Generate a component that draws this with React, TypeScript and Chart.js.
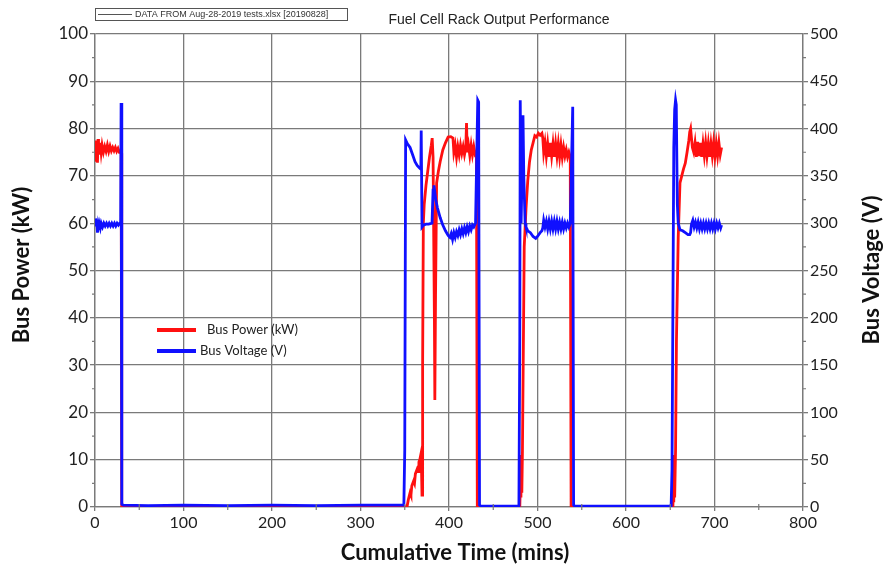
import React, { useEffect, useRef } from 'react';
import { Chart, registerables } from 'chart.js';

Chart.register(...registerables);

// Bus Power (kW): one time/value pair of arrays per running period (mins)
const powerRun1Time: number[] = [0, 0.5, 1, 1.6, 2.2, 2.8, 3.4, 4, 4.6, 5.3, 6, 7, 8, 9.5, 11, 12.5, 14, 15.5, 17, 18.5, 20, 21.5, 23, 24.5, 26, 27.5, 29, 29.6, 30.2];
const powerRun1Kw: number[] = [75, 73, 77.5, 73.5, 76, 72.8, 77.8, 74.5, 76.8, 74.8, 77, 75, 76.5, 75, 76.2, 75.2, 76.5, 75.2, 76.3, 75.3, 76, 75.3, 76, 75.2, 75.8, 75, 75, 74.8, 0];

const powerRun2Time: number[] = [
  352.5, 354, 356, 357, 358, 360, 361, 362, 364, 365, 366, 367, 368.6, 369.5, 370.2, 371, 372, 374, 376, 378,
  380, 381, 382, 383.5, 384, 384.8, 386, 388, 390, 393, 396, 399, 402, 404.5, 405.5, 407, 408.5, 410, 411.5, 413,
  414.5, 416, 417.5, 419, 419.8, 420.6, 422, 423.5, 425, 426.5, 428, 429.5, 431, 432,
];
const powerRun2Kw: number[] = [
  0, 1.5, 3, 2.5, 4.5, 5.5, 5, 7, 8, 7.5, 9.5, 10, 11.5, 2.5, 30, 60, 64, 68, 71, 74,
  76.5, 78, 74, 40, 22.6, 45, 68.5, 71, 73, 75.5, 77, 78.2, 78.3, 78, 75, 76.5, 74, 76.2, 74.5, 76.5,
  74.8, 76.2, 74.5, 76, 81.2, 75, 76.5, 74.3, 76.5, 74.5, 76.2, 74.6, 75, 0,
];

const powerRun3Time: number[] = [
  480, 480.8, 481.3, 481.8, 482.3, 483, 485, 487, 489, 491, 493, 495, 497, 499, 501, 503, 505, 506, 507, 508.5,
  510, 511.5, 513, 514.5, 516, 517.5, 519, 520.5, 522, 523.5, 525, 526.5, 528, 529.5, 531, 532.5, 534, 535.5, 537, 538,
];
const powerRun3Kw: number[] = [
  0, 6, 2, 11, 3, 12, 55, 63, 69, 73, 75.5, 77, 78.5, 78.2, 79, 78.6, 79, 78, 75, 77,
  74.2, 76.8, 74, 77, 74.2, 76.8, 74, 76.8, 74.2, 76.8, 74, 76.5, 74, 76, 74.2, 75.5, 74, 75, 74, 0,
];

const powerRun4Time: number[] = [
  653, 653.5, 654, 654.5, 655, 656, 657, 659, 661, 663, 665, 667, 669, 671, 672, 673, 674, 675, 676.5, 678,
  679.5, 681, 682.5, 684, 685.5, 687, 688.5, 690, 691.5, 693, 694.5, 696, 697.5, 699, 700.5, 702, 703.5, 705, 706.5, 708,
];
const powerRun4Kw: number[] = [
  0, 5, 1, 11, 2, 12, 35, 57, 68.5, 70, 71.5, 72.7, 75, 77.5, 79.3, 80, 78, 76, 75, 77,
  74, 77.2, 74.2, 77, 74, 76.8, 74.3, 77, 74.2, 76.8, 74, 76.8, 74.3, 77, 74.2, 76.8, 74.3, 77, 74.5, 76,
];

// Bus Voltage (V)
const voltRun1Time: number[] = [
  0, 0.7, 1.4, 2, 2.8, 3.5, 4.2, 5, 6, 7, 8.5, 10, 11.5, 13, 14.5, 16, 17.5, 19, 20.5, 22,
  23.5, 25, 26.5, 28, 29, 29.5, 30.3, 32, 60, 100, 150, 200, 250, 300, 349,
];
const voltRun1V: number[] = [
  298, 305, 299, 302, 290, 297, 293, 299, 295, 300, 296, 300, 297, 300, 297, 300, 297, 300, 297, 300,
  297, 300, 298, 300, 301, 427, 3, 2, 1.5, 2, 1.5, 2, 1.5, 2, 2,
];

const voltRun2Time: number[] = [
  350, 351, 353, 356, 359, 361.6, 364, 367, 368.2, 368.6, 369.5, 371, 374, 377, 380.8, 382, 383, 385, 387, 390,
  393, 396, 399, 401, 402.5, 404, 405.5, 407, 408.5, 410, 411.5, 413, 414.5, 416, 417.5, 419, 420.5, 422, 423.5, 425,
  426.5, 428, 430, 432.5, 433.5, 434.5, 436, 460, 479,
];
const voltRun2V: number[] = [
  60, 388, 384, 380, 372, 365, 361, 358, 357, 398, 296, 298, 299, 299, 300, 335, 340, 325, 316, 306,
  298, 292, 287, 285, 289, 283, 290, 285, 291, 287, 293, 288, 294, 289, 295, 290, 296, 291, 297, 293,
  298, 296, 300, 430, 428, 2, 1, 1, 1,
];

const voltRun3Time: number[] = [
  480, 480.5, 481.5, 482.5, 483.6, 484.5, 486, 487, 488, 489, 492, 495, 498, 500, 503, 505, 506, 507, 508.5, 510,
  511.5, 513, 514.5, 516, 517.5, 519, 520.5, 522, 523.5, 525, 526.5, 528, 529.5, 531, 532.5, 534, 535.5, 537, 539.8, 540.8,
  542, 600, 651,
];
const voltRun3V: number[] = [
  180, 430, 300, 350, 414, 350, 300, 296, 294, 292, 290, 286, 284, 286, 290, 292, 295, 303, 296, 302,
  294, 302, 294, 302, 294, 302, 294, 302, 294, 301, 294, 301, 294, 300, 295, 300, 296, 300, 423, 2,
  1, 1, 1,
];

const voltRun4Time: number[] = [
  652, 654, 655, 656, 656.8, 658, 659, 661, 664, 667, 670, 672, 673, 674, 675.5, 677, 678.5, 680, 681.5, 683,
  684.5, 686, 687.5, 689, 690.5, 692, 693.5, 695, 696.5, 698, 699.5, 701, 702.5, 704, 705.5, 707, 708,
];
const voltRun4V: number[] = [
  40, 380, 420, 430, 425, 320, 300, 293, 292, 290, 288, 288, 290, 299, 303, 296, 301, 295, 301, 294,
  300, 294, 300, 294, 300, 294, 300, 294, 300, 294, 300, 294, 300, 295, 300, 295, 298,
];

const xTicks: number[] = [0, 100, 200, 300, 400, 500, 600, 700, 800];
const powerTicks: number[] = [0, 10, 20, 30, 40, 50, 60, 70, 80, 90, 100];
const voltTicks: number[] = [0, 50, 100, 150, 200, 250, 300, 350, 400, 450, 500];

const seriesNames: string[] = ['Bus Power (kW)', 'Bus Voltage (V)'];
const seriesColors: string[] = ['#ff1010', '#1010ff'];

const calibri = 'Lato, "Noto Sans", sans-serif';
const arial = '"Liberation Sans", Arial, sans-serif';
const gridColor = '#7a7a7a';

const toPoints = (times: number[][], values: number[][]) =>
  times.flatMap((ts, k) => ts.map((t, i) => ({ x: t, y: values[k][i] })));

const decorPlugin = {
  id: 'decor',
  afterDraw(chart: any) {
    const ctx = chart.ctx as CanvasRenderingContext2D;
    const xs = chart.scales.x;
    const yl = chart.scales.y;
    const yr = chart.scales.y1;
    ctx.save();
    // minor ticks
    ctx.strokeStyle = gridColor;
    ctx.lineWidth = 1.2;
    ctx.beginPath();
    for (let i = 0; i < powerTicks.length - 1; i++) {
      const py = yl.getPixelForValue((powerTicks[i] + powerTicks[i + 1]) / 2);
      ctx.moveTo(yl.right - 3, py);
      ctx.lineTo(yl.right, py);
    }
    for (let i = 0; i < voltTicks.length - 1; i++) {
      const py = yr.getPixelForValue((voltTicks[i] + voltTicks[i + 1]) / 2);
      ctx.moveTo(yr.left, py);
      ctx.lineTo(yr.left + 3, py);
    }
    for (let i = 0; i < xTicks.length - 1; i++) {
      const px = xs.getPixelForValue((xTicks[i] + xTicks[i + 1]) / 2);
      ctx.moveTo(px, xs.top - 3);
      ctx.lineTo(px, xs.top + 3);
    }
    ctx.stroke();

    // main title
    ctx.fillStyle = '#222';
    ctx.font = `14px ${arial}`;
    ctx.textAlign = 'center';
    ctx.textBaseline = 'middle';
    ctx.fillText('Fuel Cell Rack Output Performance', 499, 20);

    // data source box
    ctx.strokeStyle = '#555';
    ctx.lineWidth = 1;
    ctx.strokeRect(95.5, 8.5, 252, 12);
    ctx.beginPath();
    ctx.moveTo(98, 14.5);
    ctx.lineTo(132, 14.5);
    ctx.stroke();
    ctx.font = `9px ${arial}`;
    ctx.textAlign = 'left';
    ctx.fillStyle = '#333';
    ctx.fillText('DATA FROM Aug-28-2019 tests.xlsx [20190828]', 135, 15);

    // axis titles
    ctx.fillStyle = '#111';
    ctx.font = `bold 22px ${calibri}`;
    ctx.textAlign = 'center';
    ctx.fillText('Cumulative Time (mins)', 455, 553);
    ctx.save();
    ctx.translate(22, 265);
    ctx.rotate(-Math.PI / 2);
    ctx.fillText('Bus Power (kW)', 0, 0);
    ctx.restore();
    ctx.save();
    ctx.translate(872, 270);
    ctx.rotate(-Math.PI / 2);
    ctx.fillText('Bus Voltage (V)', 0, 0);
    ctx.restore();

    // legend
    ctx.font = `13px ${calibri}`;
    ctx.textAlign = 'left';
    const legendRows = [
      { y: 330, textX: 207 },
      { y: 351, textX: 200 },
    ];
    legendRows.forEach((row, i) => {
      ctx.strokeStyle = seriesColors[i];
      ctx.lineWidth = 4;
      ctx.beginPath();
      ctx.moveTo(157, row.y);
      ctx.lineTo(196, row.y);
      ctx.stroke();
      ctx.fillStyle = '#222';
      ctx.fillText(seriesNames[i], row.textX, row.y);
    });
    ctx.restore();
  },
};

const FuelCellChart = () => {
  const chartRef = useRef<HTMLCanvasElement | null>(null);

  useEffect(() => {
    if (!chartRef.current) {
      return;
    }
    const ctx = chartRef.current.getContext('2d');
    if (!ctx) {
      return;
    }

    const powerData = toPoints(
      [powerRun1Time, powerRun2Time, powerRun3Time, powerRun4Time],
      [powerRun1Kw, powerRun2Kw, powerRun3Kw, powerRun4Kw],
    );
    const voltData = toPoints(
      [voltRun1Time, voltRun2Time, voltRun3Time, voltRun4Time],
      [voltRun1V, voltRun2V, voltRun3V, voltRun4V],
    );

    const chart = new Chart(ctx, {
      type: 'line',
      data: {
        datasets: [
          {
            label: seriesNames[0],
            data: powerData,
            borderColor: seriesColors[0],
            borderWidth: 2.8,
            pointRadius: 0,
            tension: 0,
            yAxisID: 'y',
            order: 2,
          },
          {
            label: seriesNames[1],
            data: voltData,
            borderColor: seriesColors[1],
            borderWidth: 2.8,
            pointRadius: 0,
            tension: 0,
            yAxisID: 'y1',
            order: 1,
          },
        ],
      },
      options: {
        animation: false,
        responsive: true,
        maintainAspectRatio: false,
        layout: { padding: { top: 34, left: 0, right: 0, bottom: 0 } },
        plugins: {
          legend: { display: false },
          tooltip: { enabled: false },
          title: { display: false },
        },
        scales: {
          x: {
            type: 'linear',
            min: 0,
            max: 800,
            afterFit: (s: any) => { s.height = 63; },
            afterBuildTicks: (s: any) => { s.ticks = xTicks.map((v) => ({ value: v })); },
            ticks: { color: '#222', font: { family: calibri, size: 16 }, padding: 2, maxRotation: 0 },
            grid: { color: gridColor, lineWidth: 1.3, tickLength: 4 },
            border: { color: gridColor, width: 1.3 },
          },
          y: {
            position: 'left',
            min: 0,
            max: 100,
            afterFit: (s: any) => { s.width = 95; },
            afterBuildTicks: (s: any) => { s.ticks = powerTicks.map((v) => ({ value: v })); },
            ticks: { color: '#222', font: { family: calibri, size: 17 }, padding: 2 },
            grid: { color: gridColor, lineWidth: 1.3, tickLength: 5 },
            border: { color: gridColor, width: 1.3 },
          },
          y1: {
            position: 'right',
            min: 0,
            max: 500,
            afterFit: (s: any) => { s.width = 88; },
            afterBuildTicks: (s: any) => { s.ticks = voltTicks.map((v) => ({ value: v })); },
            ticks: { color: '#222', font: { family: calibri, size: 16 }, padding: 2 },
            grid: { drawOnChartArea: false, color: gridColor, lineWidth: 1.3, tickLength: 5 },
            border: { color: gridColor, width: 1.3 },
          },
        },
      },
      plugins: [decorPlugin],
    });

    return () => {
      chart.destroy();
    };
  }, []);

  return <canvas ref={chartRef} />;
};

export default function App() {
  return (
    <div style={{ position: 'absolute', left: 0, top: 0, width: 891, height: 570, background: '#fff' }}>
      <FuelCellChart />
    </div>
  );
}
